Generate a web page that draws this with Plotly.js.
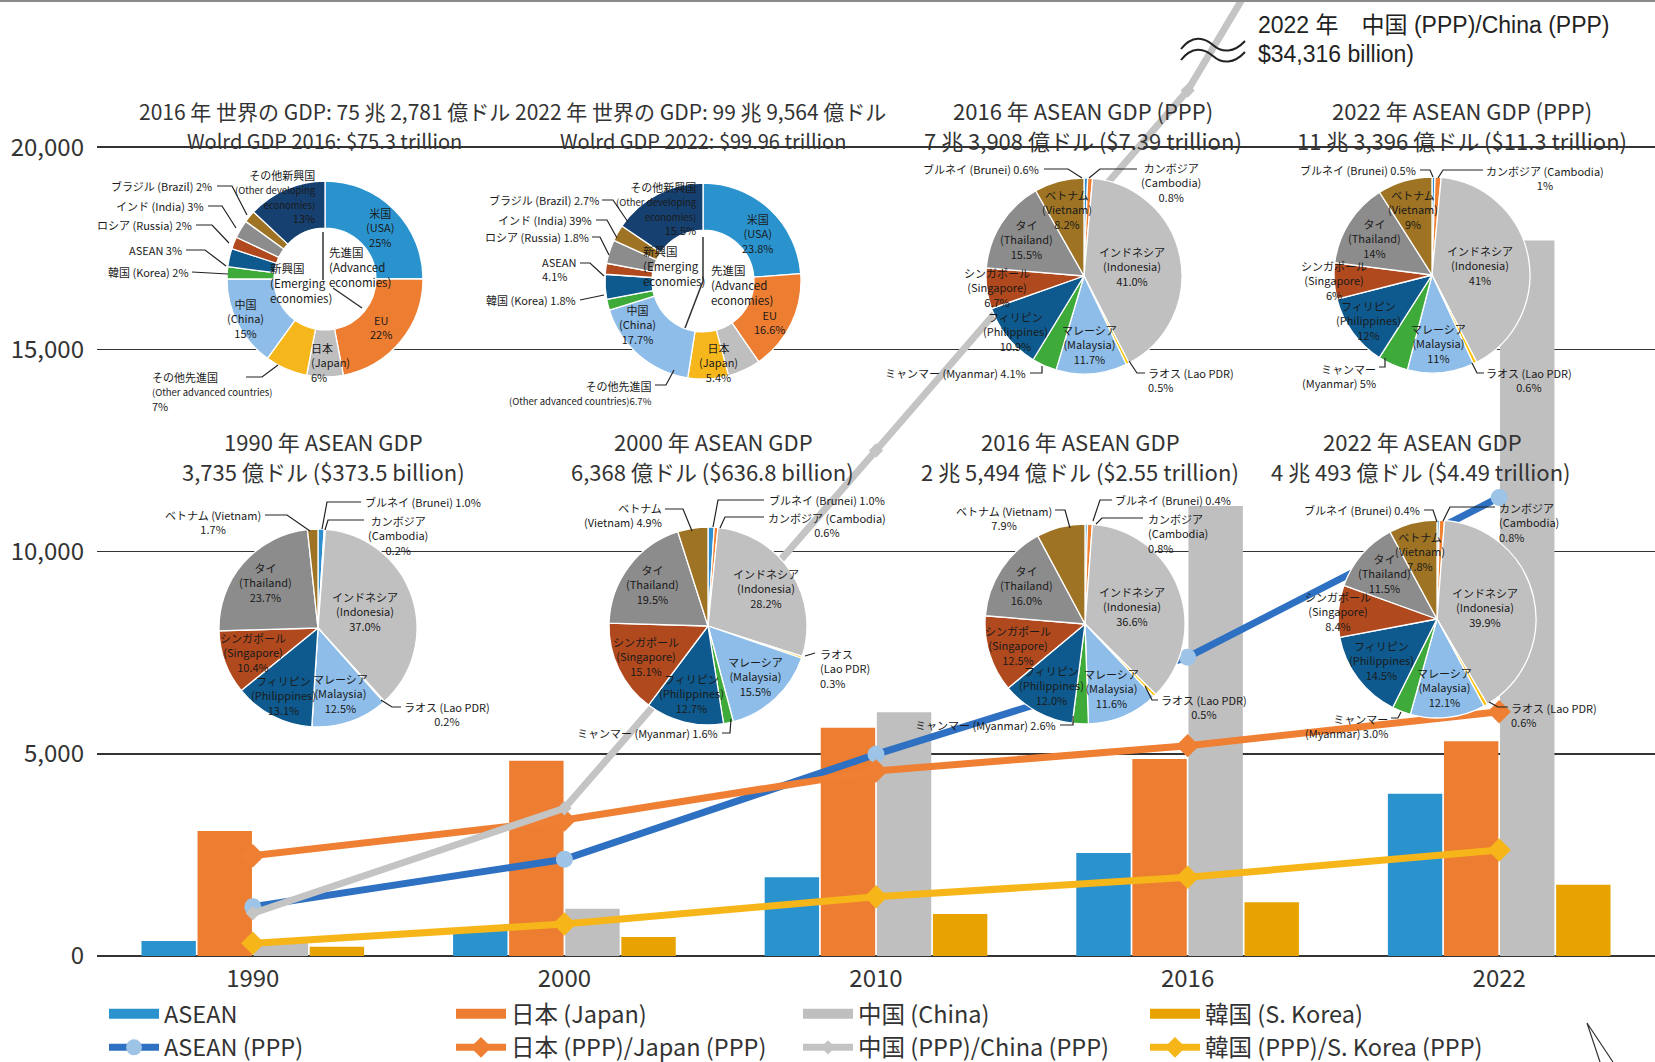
<!DOCTYPE html>
<html><head><meta charset="utf-8">
<script src="https://cdn.plot.ly/plotly-3.0.1.min.js"></script>
<style>html,body{margin:0;padding:0;background:#fff}</style>
</head><body><div id="chart" style="width:1655px;height:1062px"></div>
<script>
// ---------------- data ----------------
const years = ['1990','2000','2010','2016','2022'];
const aseanGdp = [373.5, 636.8, 1946, 2549, 4014];
const japanGdp = [3091, 4830, 5646, 4872, 5310];
const chinaGdp = [360, 1170, 6027, 11128, 17690];
const koreaGdp = [230, 470, 1040, 1330, 1760];
const aseanPpp = [1219, 2391, 4988, 7390, 11340];
const japanPpp = [2480, 3363, 4575, 5201, 6040];
const chinaPpp = [1056, 3653, 12500, 21400, 34316];
const koreaPpp = [314, 791, 1466, 1946, 2621];
const yTicks = [0, 5000, 10000, 15000, 20000];
const yTickText = ['0', '5,000', '10,000', '15,000', '20,000'];
const seriesNames = ['ASEAN', '日本 (Japan)', '中国 (China)', '韓国 (S. Korea)'];
const pppNames = ['ASEAN (PPP)', '日本 (PPP)/Japan (PPP)', '中国 (PPP)/China (PPP)', '韓国 (PPP)/S. Korea (PPP)'];

const aseanJa = ['ブルネイ','カンボジア','インドネシア','ラオス','マレーシア','ミャンマー','フィリピン','シンガポール','タイ','ベトナム'];
const aseanEn = ['Brunei','Cambodia','Indonesia','Lao PDR','Malaysia','Myanmar','Philippines','Singapore','Thailand','Vietnam'];
const asean1990 = [1.0, 0.2, 37.0, 0.2, 12.5, 0, 13.1, 10.4, 23.7, 1.7];
const asean2000 = [1.0, 0.6, 28.2, 0.3, 15.5, 1.6, 12.7, 15.1, 19.5, 4.9];
const asean2016 = [0.4, 0.8, 36.6, 0.5, 11.6, 2.6, 12.0, 12.5, 16.0, 7.9];
const asean2022 = [0.4, 0.8, 39.9, 0.6, 12.1, 3.0, 14.5, 8.4, 11.5, 7.8];
const aseanPpp2016 = [0.6, 0.8, 41.0, 0.5, 11.7, 4.1, 10.9, 6.7, 15.5, 8.2];
const aseanPpp2022 = [0.5, 1, 41, 0.6, 11, 5, 12, 6, 14, 9];

const worldKeys = ['USA','EU','Japan','OtherAdv','China','Korea','ASEAN','Russia','India','Brazil','OtherDev'];
const world2016 = [25, 22, 6, 7, 15, 2, 3, 2, 3, 2, 13];
const world2022 = [23.8, 16.6, 5.4, 6.7, 17.7, 1.8, 4.1, 1.8, 3.9, 2.7, 15.5];

// ---------------- styles / helpers ----------------
const FONT = '"Noto Sans CJK JP", "Noto Sans", sans-serif';
const L = 97, W = 1558, H = 956;
const px = x => (x - L) / W;
const py = y => (H - y) / H;
const aseanColors = ['#2E8FD0','#F07F2F','#C0C0C0','#FFC000','#8DBDE8','#3DAA3A','#0E5A8E','#B1491E','#8C8C8C','#9E7424'];
const worldColors = ['#2A93CE','#ED7D31','#BFBFBF','#F5B71C','#8DBDE8','#3DAA3A','#0E5A8E','#B1491E','#8C8C8C','#9E7424','#16406F'];
const annotations = [];
const shapes = [];
function addText(text, x, y, o) {
  o = o || {};
  annotations.push({xref:'paper', yref:'paper', x:px(x), y:py(y), text, showarrow:false,
    xanchor:o.xa || 'center', yanchor:'middle', align:o.al || 'center',
    font:{family:FONT, size:o.size || 11, color:o.color || '#1a1a1a'}});
}
function pathStr(pts) {
  return pts.map((p, i) => (i ? 'L' : 'M') + px(p[0]).toFixed(5) + ',' + py(p[1]).toFixed(5)).join(' ');
}
function addPath(pts, color, width) {
  shapes.push({type:'path', xref:'paper', yref:'paper', path:pathStr(pts), line:{color:color || '#222', width:width || 1.2}, layer:'above'});
}
const PAT = {
  one: (j, e, p) => `${j} (${e}) ${p}`,
  p2: (j, e, p) => `${j} (${e})<br>${p}`,
  e2: (j, e, p) => `${j}<br>(${e}) ${p}`,
  three: (j, e, p) => `${j}<br>(${e})<br>${p}`
};
const traces = [];
function pieDomain(cx, cy, R) {
  return {x:[px(cx - R), px(cx + R)], y:[py(cy + R), py(cy - R)]};
}
function addPie(vals, colors, names, cx, cy, R, hole) {
  traces.push({type:'pie', values:vals, labels:names, sort:false, direction:'clockwise', rotation:0,
    hole:hole || 0, marker:{colors:colors, line:{color:'#ffffff', width:1.3}}, textinfo:'none',
    hoverinfo:'skip', showlegend:false, domain:pieDomain(cx, cy, R)});
}

// ---------------- legend-only swatches for bars ----------------
const barColors = ['#2A93CE', '#ED7D31', '#BFBFBF', '#E8A300'];
seriesNames.forEach((n, i) => traces.push({type:'scatter', mode:'lines', x:[null], y:[null], name:n,
  line:{color:barColors[i], width:18}, hoverinfo:'skip'}));

// ---------------- bars ----------------
[aseanGdp, japanGdp, chinaGdp, koreaGdp].forEach((v, i) => traces.push({type:'bar', x:years, y:v,
  name:seriesNames[i], marker:{color:barColors[i]}, showlegend:false, hoverinfo:'skip'}));

// ---------------- PPP lines ----------------
const lineStyles = [
  {c:'#2E70C2', m:{symbol:'circle', size:17, color:'#9DC3E6'}},
  {c:'#EF7F33', m:{symbol:'diamond', size:18, color:'#EF7F33'}},
  {c:'#C4C4C4', m:{symbol:'diamond', size:11, color:'#C4C4C4'}},
  {c:'#F6B619', m:{symbol:'diamond', size:18, color:'#F6B619'}}
];
[aseanPpp, japanPpp, chinaPpp, koreaPpp].forEach((v, i) => traces.push({type:'scatter', mode:'lines+markers',
  x:years, y:v, name:pppNames[i], line:{color:lineStyles[i].c, width:7}, marker:lineStyles[i].m, hoverinfo:'skip'}));

// ---------------- ASEAN pies ----------------
const aseanPies = [
  {vals:asean1990, cx:318, cy:628, R:99, dec:1, rf:{6:0.77}, out:[
    {i:9, p:'p2', xa:'right', x:263, y:522, al:'center', ld:[[265,515],[287,515],[310,531]]},
    {i:0, p:'one', xa:'left', x:363, y:502, ld:[[361,502],[327,502],[322,529]]},
    {i:1, p:'three', xa:'left', x:366, y:535, al:'center', ld:[[364,520],[328,520],[325,530]]},
    {i:3, p:'p2', xa:'left', x:402, y:714, al:'center', ld:[[401,707],[392,707],[381,700]]}]},
  {vals:asean2000, cx:708, cy:626, R:99, dec:1, rf:{}, out:[
    {i:9, p:'e2', xa:'right', x:664, y:515, al:'right', ld:[[665,509],[683,509],[692,531]]},
    {i:0, p:'one', xa:'left', x:767, y:500, ld:[[764,500],[718,500],[713,527]]},
    {i:1, p:'p2', xa:'left', x:766, y:525, al:'center', ld:[[764,517],[725,517],[720,528]]},
    {i:3, p:'three', xa:'left', x:818, y:668, al:'left', ld:[[815,653],[805,656]]},
    {i:5, p:'one', xa:'right', x:720, y:733, ld:[[722,733],[730,733],[731,719]]}]},
  {vals:asean2016, cx:1085, cy:624, R:100, dec:1, rf:{}, out:[
    {i:9, p:'p2', xa:'right', x:1054, y:518, al:'center', ld:[[1055,510],[1065,510],[1070,528]]},
    {i:0, p:'one', xa:'left', x:1113, y:500, ld:[[1112,500],[1100,500],[1093,521]]},
    {i:1, p:'three', xa:'left', x:1146, y:533, al:'left', ld:[[1143,518],[1102,518],[1096,524]]},
    {i:3, p:'p2', xa:'left', x:1159, y:707, al:'center', ld:[[1158,700],[1152,700],[1145,686]]},
    {i:5, p:'one', xa:'right', x:1058, y:725, ld:[[1060,725],[1073,725],[1073,716]]}]},
  {vals:asean2022, cx:1437, cy:619, R:99, dec:1, rf:{7:1.0}, out:[
    {i:0, p:'one', xa:'right', x:1422, y:510, ld:[[1424,510],[1433,510],[1437,522]]},
    {i:1, p:'three', xa:'left', x:1497, y:522, al:'left', ld:[[1495,507],[1450,507],[1443,521]]},
    {i:3, p:'p2', xa:'left', x:1509, y:715, al:'left', ld:[[1508,707],[1498,707],[1489,702]]},
    {i:5, p:'e2', xa:'right', x:1390, y:726, al:'right', ld:[[1391,718],[1398,718],[1401,712]]}]},
  {vals:aseanPpp2016, cx:1084, cy:276, R:98, dec:1, rf:{7:0.9, 6:0.9}, out:[
    {i:0, p:'one', xa:'right', x:1041, y:169, ld:[[1044,169],[1068,169],[1082,178]]},
    {i:1, p:'three', xa:'left', x:1139, y:183, al:'center', ld:[[1137,169],[1100,169],[1089,178]]},
    {i:3, p:'p2', xa:'left', x:1146, y:380, al:'left', ld:[[1145,373],[1137,373],[1129,361]]},
    {i:5, p:'one', xa:'right', x:1028, y:373, ld:[[1030,373],[1042,373],[1042,366]]}]},
  {vals:aseanPpp2022, cx:1432, cy:275, R:98, dec:null, rf:{7:1.0, 6:0.8}, out:[
    {i:0, p:'one', xa:'right', x:1418, y:170, ld:[[1420,170],[1430,170],[1433,177]]},
    {i:1, p:'p2', xa:'left', x:1484, y:178, al:'center', ld:[[1483,170],[1443,170],[1438,178]]},
    {i:3, p:'p2', xa:'left', x:1484, y:380, al:'center', ld:[[1484,373],[1477,373],[1472,363]]},
    {i:5, p:'e2', xa:'right', x:1378, y:376, al:'right', ld:[[1379,367],[1385,367],[1385,358]]}]}
];
aseanPies.forEach(pie => {
  addPie(pie.vals, aseanColors, aseanEn, pie.cx, pie.cy, pie.R, 0);
  const fmt = v => (pie.dec === null ? String(v) : v.toFixed(pie.dec)) + '%';
  const total = pie.vals.reduce((a, b) => a + b, 0);
  const outIdx = pie.out.map(o => o.i);
  let cum = 0;
  pie.vals.forEach((v, i) => {
    const a0 = cum / total * 360; cum += v;
    if (v <= 0 || outIdx.includes(i)) return;
    const mid = (a0 + v / total * 180) * Math.PI / 180;
    const rf = pie.rf[i] !== undefined ? pie.rf[i] : (v / total > 0.3 ? 0.5 : 0.7);
    addText(PAT.three(aseanJa[i], aseanEn[i], fmt(pie.vals[i])),
      pie.cx + rf * pie.R * Math.sin(mid), pie.cy - rf * pie.R * Math.cos(mid));
  });
  pie.out.forEach(o => {
    addText(PAT[o.p](aseanJa[o.i], aseanEn[o.i], fmt(pie.vals[o.i])), o.x, o.y, {xa:o.xa, al:o.al || 'left'});
    addPath(o.ld);
  });
});

// ---------------- world donuts ----------------
const SM = s => `<span style="font-size:9.5px">${s}</span>`;
const worldPies = [
  {vals:world2016, cx:325, cy:279, R:98, labels:[
    {k:0, t:'米国<br>(USA)<br>{p}', x:380, y:227},
    {k:1, t:'EU<br>{p}', x:381, y:327},
    {k:2, t:'日本<br>(Japan)<br>{p}', x:309, y:363, xa:'left', al:'left'},
    {k:4, t:'中国<br>(China)<br>{p}', x:245, y:318},
    {k:10, t:'その他新興国<br>' + SM('(Other developing') + '<br>' + SM('economies)') + '<br>{p}', x:318, y:196, xa:'right', al:'right'},
    {k:9, t:'ブラジル (Brazil) {p}', x:214, y:186, xa:'right', ld:[[217,186],[232,186],[247,215]]},
    {k:8, t:'インド (India) {p}', x:206, y:206, xa:'right', ld:[[208,206],[222,206],[236,228]]},
    {k:7, t:'ロシア (Russia) {p}', x:194, y:225, xa:'right', ld:[[196,225],[212,225],[229,243]]},
    {k:6, t:'ASEAN {p}', x:184, y:250, xa:'right', ld:[[186,250],[205,250],[226,266]]},
    {k:5, t:'韓国 (Korea) {p}', x:191, y:272, xa:'right', ld:[[192,272],[228,274]]},
    {k:3, t:'その他先進国<br>' + SM('(Other advanced countries)') + '<br>{p}', x:150, y:392, xa:'left', al:'left', ld:[[246,377],[262,377],[278,365]]}
  ], hole:[{t:'先進国<br>(Advanced<br>economies)', x:327, y:267}, {t:'新興国<br>(Emerging<br>economies)', x:268, y:283}],
   div:[[[323,232],[323,280]], [[333,288],[362,308]]]},
  {vals:world2022, cx:703, cy:281, R:98, labels:[
    {k:0, t:'米国<br>(USA)<br>{p}', x:758, y:234},
    {k:1, t:'EU<br>{p}', x:770, y:322},
    {k:2, t:'日本<br>(Japan)<br>{p}', x:718, y:363},
    {k:4, t:'中国<br>(China)<br>{p}', x:637, y:324},
    {k:10, t:'その他新興国<br>' + SM('(Other developing') + '<br>' + SM('economies)') + '<br>{p}', x:699, y:208, xa:'right', al:'right'},
    {k:9, t:'ブラジル (Brazil) {p}', x:601, y:200, xa:'right', ld:[[602,200],[613,200],[628,222]]},
    {k:8, t:'インド (India) 39%', x:594, y:220, xa:'right', ld:[[596,220],[607,220],[617,238]]},
    {k:7, t:'ロシア (Russia) {p}', x:591, y:237, xa:'right', ld:[[592,237],[600,237],[609,255]]},
    {k:6, t:'ASEAN<br>{p}', x:578, y:269, xa:'right', al:'left', ld:[[580,263],[590,263],[604,276]]},
    {k:5, t:'韓国 (Korea) {p}', x:578, y:300, xa:'right', ld:[[580,300],[604,295]]},
    {k:3, t:'その他先進国<br>' + SM('(Other advanced countries){p}'), x:654, y:393, xa:'right', al:'right', ld:[[655,385],[666,385],[674,370]]}
  ], hole:[{t:'先進国<br>(Advanced<br>economies)', x:709, y:285}, {t:'新興国<br>(Emerging<br>economies)', x:641, y:266}],
   div:[[[703,237],[703,281],[685,328]]]}
];
worldPies.forEach(pie => {
  addPie(pie.vals, worldColors, worldKeys, pie.cx, pie.cy, pie.R, 0.52);
  pie.labels.forEach(l => {
    addText(l.t.replace('{p}', pie.vals[l.k] + '%'), l.x, l.y, {xa:l.xa || 'center', al:l.al || 'center'});
    if (l.ld) addPath(l.ld);
  });
  pie.hole.forEach(h => addText(h.t, h.x, h.y, {xa:'left', al:'left', size:11.5}));
  pie.div.forEach(d => addPath(d, '#333', 1.5));
});

// ---------------- pie titles ----------------
const titles = [
  ['2016 年 世界の GDP: 75 兆 2,781 億ドル', 324, 111, 21], ['Wolrd GDP 2016: $75.3 trillion', 324, 140, 20],
  ['2022 年 世界の GDP: 99 兆 9,564 億ドル', 700, 111, 21], ['Wolrd GDP 2022: $99.96 trillion', 703, 140, 20],
  ['2016 年 ASEAN GDP (PPP)', 1083, 110, 22], ['7 兆 3,908 億ドル ($7.39 trillion)', 1083, 140, 22],
  ['2022 年 ASEAN GDP (PPP)', 1462, 110, 22], ['11 兆 3,396 億ドル ($11.3 trillion)', 1462, 140, 22],
  ['1990 年 ASEAN GDP', 323, 441, 22], ['3,735 億ドル ($373.5 billion)', 323, 471, 22],
  ['2000 年 ASEAN GDP', 713, 441, 22], ['6,368 億ドル ($636.8 billion)', 712, 471, 22],
  ['2016 年 ASEAN GDP', 1080, 441, 22], ['2 兆 5,494 億ドル ($2.55 trillion)', 1080, 471, 22],
  ['2022 年 ASEAN GDP', 1422, 441, 22], ['4 兆 493 億ドル ($4.49 trillion)', 1421, 471, 22]
];
titles.forEach(t => addText(t[0], t[1], t[2], {size:t[3], color:'#333'}));

// China 2022 off-scale note
annotations.push({xref:'paper', yref:'paper', x:px(1256), y:py(25), xanchor:'left', yanchor:'middle', showarrow:false,
  text:'2022 年　中国 (PPP)/China (PPP)', font:{family:'"Liberation Sans", Arial, "Noto Sans CJK JP", sans-serif', size:23, color:'#222'}});
annotations.push({xref:'paper', yref:'paper', x:px(1256), y:py(54), xanchor:'left', yanchor:'middle', showarrow:false,
  text:'$34,316 billion)', font:{family:'"Liberation Sans", Arial, sans-serif', size:23, color:'#222'}});
// break mark (two waves)
function wave(y0) {
  const P = (x, y) => px(x).toFixed(5) + ',' + py(y).toFixed(5);
  return 'M' + P(1181, y0 + 4) + ' C' + P(1192, y0 - 10) + ' ' + P(1204, y0 - 8) + ' ' + P(1213, y0) +
    ' C' + P(1222, y0 + 8) + ' ' + P(1234, y0 + 8) + ' ' + P(1245, y0 - 4);
}
shapes.push({type:'path', xref:'paper', yref:'paper', path:wave(45), line:{color:'#222', width:2}, layer:'above'});
shapes.push({type:'path', xref:'paper', yref:'paper', path:wave(56), line:{color:'#222', width:2}, layer:'above'});
// top frame line
shapes.push({type:'line', xref:'paper', yref:'paper', x0:px(0), x1:px(1655), y0:py(1), y1:py(1), line:{color:'#8a8a8a', width:2}, layer:'above'});
// small pointer at bottom right
addPath([[1600,1062],[1587,1023],[1613,1062]], '#333', 1.2);

const layout = {
  width:1655, height:1062, margin:{l:L, r:0, t:0, b:106, autoexpand:false},
  paper_bgcolor:'#ffffff', plot_bgcolor:'#ffffff',
  barmode:'group', bargap:0.28, bargroupgap:0.03,
  hovermode:false, showlegend:true,
  xaxis:{type:'category', categoryorder:'array', categoryarray:years, range:[-0.5, 4.5], ticks:'', showline:false,
    showgrid:false, zeroline:false, fixedrange:true, ticklabelstandoff:6, automargin:false,
    tickfont:{family:FONT, size:24, color:'#333'}},
  yaxis:{range:[0, 23640], tickvals:yTicks, ticktext:yTickText, ticks:'', showline:false, showgrid:true,
    gridcolor:'#333', gridwidth:1.5, zeroline:true, zerolinecolor:'#333', zerolinewidth:2, fixedrange:true,
    ticklabelstandoff:12, automargin:false, tickfont:{family:FONT, size:24, color:'#333'}},
  legend:{orientation:'h', x:px(104), xanchor:'left', y:py(992), yanchor:'top', entrywidth:282, entrywidthmode:'pixels',
    itemwidth:50, traceorder:'normal', itemsizing:'trace', tracegroupgap:0, bgcolor:'rgba(0,0,0,0)',
    font:{family:FONT, size:23.5, color:'#333'}},
  annotations:annotations, shapes:shapes
};
Plotly.newPlot('chart', traces, layout, {displayModeBar:false, staticPlot:true});
</script></body></html>
